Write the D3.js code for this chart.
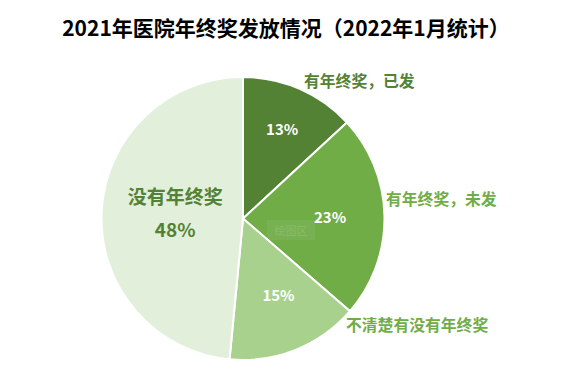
<!DOCTYPE html>
<html><head><meta charset="utf-8">
<script src="https://cdn.jsdelivr.net/npm/d3@7"></script>
<style>
body{margin:0;background:#fff;}
svg{display:block;font-family:"Noto Sans CJK SC","Noto Sans",sans-serif;}
</style></head>
<body><svg id="c" width="578" height="383"></svg>
<script>
const title = "2021年医院年终奖发放情况（2022年1月统计）";
const categories = ["有年终奖，已发","有年终奖，未发","不清楚有没有年终奖","没有年终奖"];
const values = [13,23,15,48];
const colors = ["#548235","#70AD47","#A9D18E","#E2EFDA"];
const labelColors = ["#548235","#70AD47","#70AD47","#548235"];

const svg = d3.select("#c");
const cx = 243, cy = 218.5, R = 141.5;

svg.append("text").attr("x",286).attr("y",36).attr("text-anchor","middle")
  .attr("font-size",21).attr("font-weight","bold").attr("fill","#000").text(title);

const pie = d3.pie().sort(null).value(d=>d)(values);
const arc = d3.arc().innerRadius(0).outerRadius(R);
const g = svg.append("g").attr("transform",`translate(${cx},${cy})`);
g.selectAll("path").data(pie).join("path")
  .attr("d",arc).attr("fill",(d,i)=>colors[i])
  .attr("stroke","#fff").attr("stroke-width",2);

// faint plot-area tooltip artefact
svg.append("rect").attr("x",267).attr("y",220).attr("width",48).attr("height",20)
  .attr("fill","#ffffff").attr("opacity",0.06);
svg.append("text").attr("x",291).attr("y",235).attr("text-anchor","middle")
  .attr("font-size",11).attr("fill","#ffffff").attr("opacity",0.12).text("绘图区");

// inside percentage labels: radius fraction and angle tweak
const pctPos = [[0.69,0],[0.615,0],[0.6,-0.05]];
g.selectAll("text.p").data(pie.slice(0,3)).join("text").attr("class","p")
  .attr("text-anchor","middle").attr("font-size",15).attr("font-weight","bold").attr("fill","#fff")
  .attr("transform",(d,i)=>{const a=(d.startAngle+d.endAngle)/2+pctPos[i][1];const r=R*pctPos[i][0];return `translate(${r*Math.sin(a)},${-r*Math.cos(a)+5.5})`;})
  .text((d,i)=>values[i]+"%");

// big label inside 48% slice
const d3s = pie[3];
const a3 = (d3s.startAngle+d3s.endAngle)/2, r3 = R*0.48;
const lx = r3*Math.sin(a3), ly = -r3*Math.cos(a3);
g.append("text").attr("x",lx).attr("y",ly-11.5).attr("text-anchor","middle")
  .attr("font-size",19).attr("font-weight","bold").attr("fill",labelColors[3]).text(categories[3]);
g.append("text").attr("x",lx).attr("y",ly+21.5).attr("text-anchor","middle")
  .attr("font-size",19).attr("font-weight","bold").attr("fill",labelColors[3]).text(values[3]+"%");

// outside category labels
const outPos = [[304,87],[386,205],[346,331]];
outPos.forEach((p,i)=>{
  svg.append("text").attr("x",p[0]).attr("y",p[1]).attr("font-size",15.8).attr("font-weight","bold")
    .attr("fill",labelColors[i]).text(categories[i]);
});
</script></body></html>
